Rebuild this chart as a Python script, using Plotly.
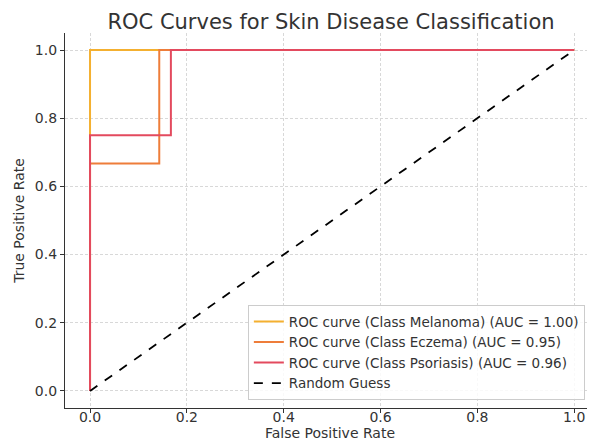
import plotly.graph_objects as go

# Data
mel_fpr = [0.0, 0.0, 1.0]
mel_tpr = [0.0, 1.0, 1.0]
ecz_fpr = [0.0, 0.0, 0.143, 0.143, 1.0]
ecz_tpr = [0.0, 0.667, 0.667, 1.0, 1.0]
pso_fpr = [0.0, 0.0, 0.167, 0.167, 1.0]
pso_tpr = [0.0, 0.75, 0.75, 1.0, 1.0]
rand_x = [0.0, 1.0]
rand_y = [0.0, 1.0]
tick_vals = [0.0, 0.2, 0.4, 0.6, 0.8, 1.0]
tick_text = ["0.0", "0.2", "0.4", "0.6", "0.8", "1.0"]

names = [
    "ROC curve (Class Melanoma) (AUC = 1.00)",
    "ROC curve (Class Eczema) (AUC = 0.95)",
    "ROC curve (Class Psoriasis) (AUC = 0.96)",
    "Random Guess",
]
colors = ["#F4B030", "#EE7D3A", "#E34A5E", "#000000"]

fig = go.Figure()
for xs, ys, nm, c in [(mel_fpr, mel_tpr, names[0], colors[0]),
                      (ecz_fpr, ecz_tpr, names[1], colors[1]),
                      (pso_fpr, pso_tpr, names[2], colors[2])]:
    fig.add_trace(go.Scatter(x=xs, y=ys, mode="lines", name=nm,
                             line=dict(color=c, width=2)))
fig.add_trace(go.Scatter(x=rand_x, y=rand_y, mode="lines", name=names[3],
                         line=dict(color=colors[3], width=1.8, dash="dash")))

axis_common = dict(
    showline=True, linecolor="#333333", linewidth=1.2, mirror=False,
    ticks="outside", ticklen=4, tickcolor="#333333", tickwidth=1,
    showgrid=True, gridcolor="#d8d8d8", gridwidth=0.8, griddash="3px,2px",
    zeroline=False,
    tickfont=dict(family="DejaVu Sans", size=14, color="#333333"),
    tickvals=tick_vals, ticktext=tick_text,
)

# the page body adds an 8px offset, so the margins compensate
fig.update_layout(
    width=595, height=442,
    margin=dict(l=57, r=8, t=25, b=42),
    paper_bgcolor="white", plot_bgcolor="white",
    font=dict(family="DejaVu Sans", color="#333333"),
    title=dict(text="ROC Curves for Skin Disease Classification",
               x=323 / 595, xanchor="center",
               y=1 - 14 / 442, yanchor="middle", yref="container",
               font=dict(family="DejaVu Sans", size=21, color="#333333")),
    xaxis=dict(range=[-0.0517, 1.043], automargin=False,
               ticklabelstandoff=-8,
               title=dict(text="False Positive Rate", standoff=0,
                          font=dict(family="DejaVu Sans", size=14, color="#333333")),
               **axis_common),
    yaxis=dict(range=[-0.05, 1.05], automargin=False,
               title=dict(text="True Positive Rate", standoff=6,
                          font=dict(family="DejaVu Sans", size=14, color="#333333")),
               **axis_common),
    legend=dict(x=0.345, y=0.021, xanchor="left", yanchor="bottom",
                bgcolor="rgba(255,255,255,0.85)", bordercolor="#cccccc",
                borderwidth=1,
                font=dict(family="DejaVu Sans", size=13.5, color="#333333"),
                tracegroupgap=0),
    showlegend=True,
)

fig.write_html("out.html")
